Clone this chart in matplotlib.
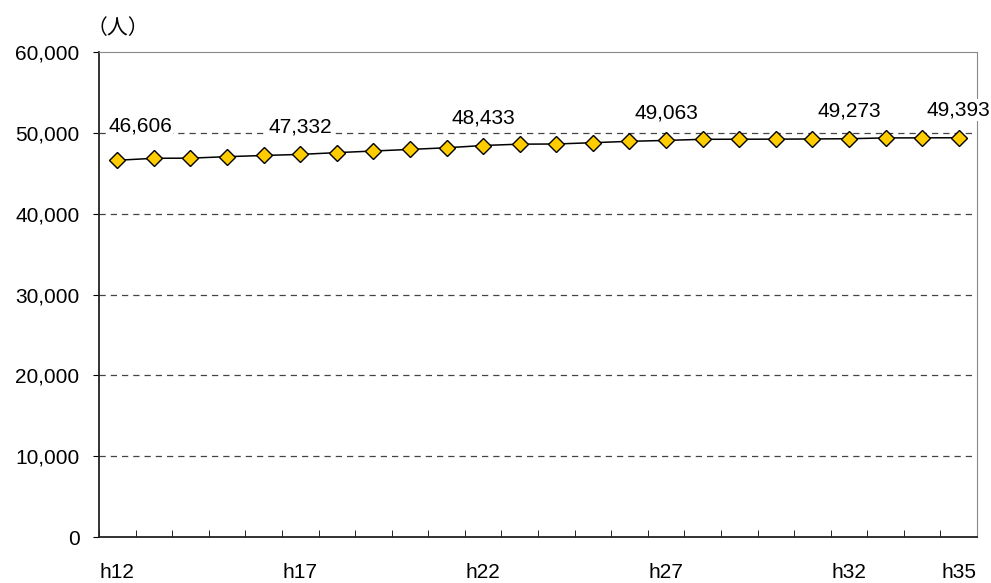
import matplotlib.pyplot as plt
import numpy as np

plt.rcParams["font.family"] = ["Liberation Sans", "Noto Sans CJK JP", "DejaVu Sans"]

years = ["h12", "h13", "h14", "h15", "h16", "h17", "h18", "h19", "h20", "h21",
         "h22", "h23", "h24", "h25", "h26", "h27", "h28", "h29", "h30", "h31",
         "h32", "h33", "h34", "h35"]
population = [46606, 46850, 46870, 47050, 47200, 47332, 47550, 47750, 47950, 48150,
              48433, 48600, 48620, 48780, 48950, 49063, 49200, 49210, 49220, 49240,
              49273, 49370, 49380, 49393]
labelled = ["h12", "h17", "h22", "h27", "h32", "h35"]

fig = plt.figure(figsize=(9.91, 5.83), dpi=100)
ax = fig.add_axes([0.0999, 0.0789, 0.886, 0.8319])

x = np.arange(len(years))
ax.plot(x, population, color="black", lw=1.1, marker="D", markersize=8,
        markerfacecolor="#FFCC00", markeredgecolor="black", markeredgewidth=1.0,
        zorder=3)

ax.set_xlim(-0.5, len(years) - 0.5)
ax.set_ylim(0, 60000)

yt = np.arange(0, 60001, 10000)
ax.set_yticks(yt)
ax.set_yticklabels([f"{v:,}" for v in yt], fontsize=15)
for v in yt[1:-1]:
    ax.axhline(v, color="#444444", lw=0.9, ls=(0, (5, 4)), zorder=1)

ax.set_xticks([years.index(t) for t in labelled])
ax.set_xticklabels(labelled, fontsize=15)
ax.tick_params(axis="x", length=0, pad=19)
ax.set_xticks(np.arange(len(years) + 1) - 0.5, minor=True)
ax.tick_params(axis="x", which="minor", direction="in", length=5, color="black")
ax.tick_params(axis="y", length=4, pad=10, color="black")

for s in ["top", "right"]:
    ax.spines[s].set_color("#888888")
for s in ["left", "bottom"]:
    ax.spines[s].set_color("#222222")
    ax.spines[s].set_linewidth(1.3)

for t in labelled:
    i = years.index(t)
    ha = "center"
    xi = i
    dy = 20
    if i == 0:
        xi = i - 0.25
        ha = "left"
        dy = 25
    ax.annotate(f"{population[i]:,}", (xi, population[i]), xytext=(0, dy),
                textcoords="offset points", ha=ha, va="center", fontsize=15,
                bbox=dict(facecolor="white", edgecolor="none", pad=1), zorder=4)

fig.text(0.087, 0.952, "（人）", fontsize=15, ha="left", va="center",
         family=["Noto Sans CJK JP", "DejaVu Sans"])

fig.savefig("out.png", dpi=100)
